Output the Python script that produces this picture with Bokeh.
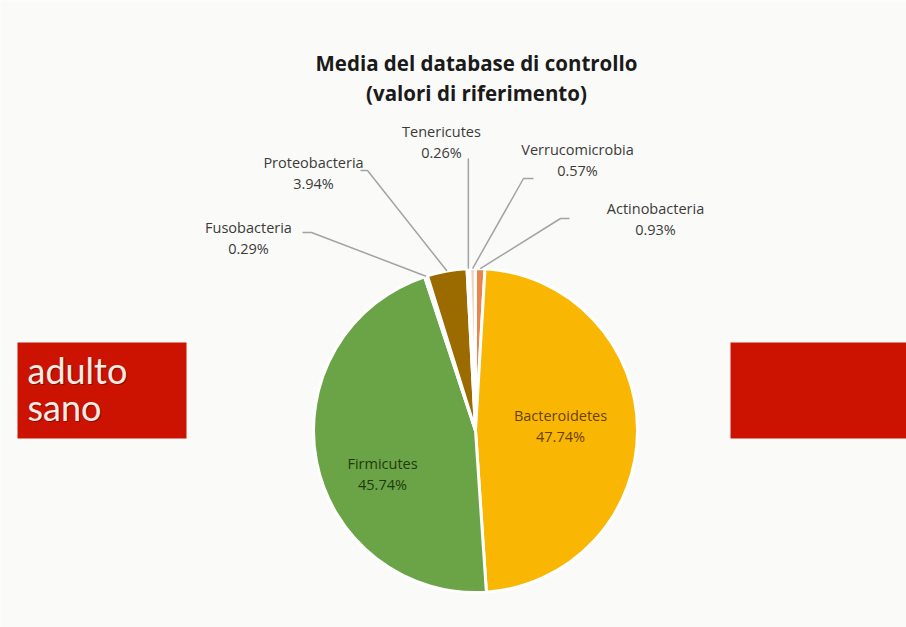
import math
from bokeh.plotting import figure
from bokeh.models import Range1d, Label, ColumnDataSource
from bokeh.core.properties import value
from bokeh.embed import file_html
from bokeh.resources import INLINE

# ---- data ----
phyla = ["Actinobacteria", "Bacteroidetes", "Firmicutes", "Fusobacteria",
         "Proteobacteria", "Tenericutes", "Verrucomicrobia"]
percent = [0.93, 47.74, 45.74, 0.29, 3.94, 0.26, 0.57]
percent_labels = ["0.93%", "47.74%", "45.74%", "0.29%", "3.94%", "0.26%", "0.57%"]
colors = ["#E9844A", "#F9B704", "#6BA446", "#F1ECE4", "#9C6B00", "#F3EEE6", "#F2D6BF"]
title_lines = ["Media del database di controllo", "(valori di riferimento)"]
side_text = ["adulto", "sano"]

W, H = 906, 627
def Y(y):
    return H - y

p = figure(width=W, height=H, x_range=Range1d(0, W), y_range=Range1d(0, H),
           output_backend="svg", toolbar_location=None, min_border=0,
           background_fill_color="#FAFAF8", border_fill_color="#FAFAF8")
p.axis.visible = False
p.grid.visible = False
p.outline_line_color = None

# ---- pie ----
cx, cy, r = 475, Y(430), 162
total = sum(percent)
starts, ends, mids = [], [], []
acc = 0.0
for v in percent:
    a0 = math.pi / 2 - 2 * math.pi * acc / total
    acc += v
    a1 = math.pi / 2 - 2 * math.pi * acc / total
    starts.append(a0); ends.append(a1); mids.append((a0 + a1) / 2)

src = ColumnDataSource(dict(start=starts, end=ends, color=colors))
p.wedge(x=cx, y=cy, radius=r, radius_units="screen", start_angle="start", end_angle="end",
        direction="clock", fill_color="color", line_color="white", line_width=3, source=src)

FS = "14.5px"
# ---- inside labels ----
inside = {"Bacteroidetes": (560, 415, "#6A4200"), "Firmicutes": (382, 463, "#1F3A10")}
for name, (lx, ly, col) in inside.items():
    i = phyla.index(name)
    p.add_layout(Label(x=lx, y=Y(ly), text=name, text_align="center", text_baseline="middle",
                       text_font="Open Sans", text_font_size=FS, text_color=col))
    p.add_layout(Label(x=lx, y=Y(ly + 21), text=percent_labels[i], text_align="center",
                       text_baseline="middle", text_font="Open Sans", text_font_size=FS,
                       text_color=col))

# ---- outside labels with leaders ----
outside = {
    "Tenericutes":     (441, 131, None, None, None),
    "Proteobacteria":  (313, 162, 360, 170, 367),
    "Fusobacteria":    (248, 227, 302, 232, 311),
    "Verrucomicrobia": (577, 149, 533, 178, 523),
    "Actinobacteria":  (655, 208, 569, 218, 560),
}
lead_col = "#A3A3A3"
for name, (lx, ly, sx, sy, ex) in outside.items():
    i = phyla.index(name)
    p.add_layout(Label(x=lx, y=Y(ly), text=name, text_align="center", text_baseline="middle",
                       text_font="Open Sans", text_font_size=FS, text_color="#3A3A3A"))
    p.add_layout(Label(x=lx, y=Y(ly + 21), text=percent_labels[i], text_align="center",
                       text_baseline="middle", text_font="Open Sans", text_font_size=FS,
                       text_color="#3A3A3A"))
    m = mids[i]
    px_, py_ = cx + r * math.cos(m), cy + r * math.sin(m)
    if sx is None:
        p.line([px_, px_], [Y(158), py_], line_color=lead_col, line_width=1.5)
    else:
        p.line([sx, ex, px_], [Y(sy), Y(sy), py_], line_color=lead_col, line_width=1.5)

# ---- title ----
for k, t in enumerate(title_lines):
    p.add_layout(Label(x=476, y=Y(62 + 30 * k), text=t, text_align="center", text_baseline="middle",
                       text_font="Open Sans", text_font_style="bold", text_font_size="20.5px",
                       text_color="#1A1A1A"))

# ---- red side boxes ----
p.quad(left=[17, 730], right=[186, 906], top=[Y(342), Y(342)], bottom=[Y(438), Y(438)],
       fill_color="#CC1200", line_color=None)
for k, t in enumerate(side_text):
    p.add_layout(Label(x=28, y=Y(369 + 37 * k) - 1, text=t, text_align="left", text_baseline="alphabetic",
                       text_font="Lato", text_font_size="36px", text_color="#5A0A00", text_alpha=0.6))
    p.add_layout(Label(x=27, y=Y(369 + 37 * k), text=t, text_align="left", text_baseline="alphabetic",
                       text_font="Lato", text_font_size="36px", text_color="#F6ECE6"))

open("out.html", "w").write(file_html(p, INLINE))
